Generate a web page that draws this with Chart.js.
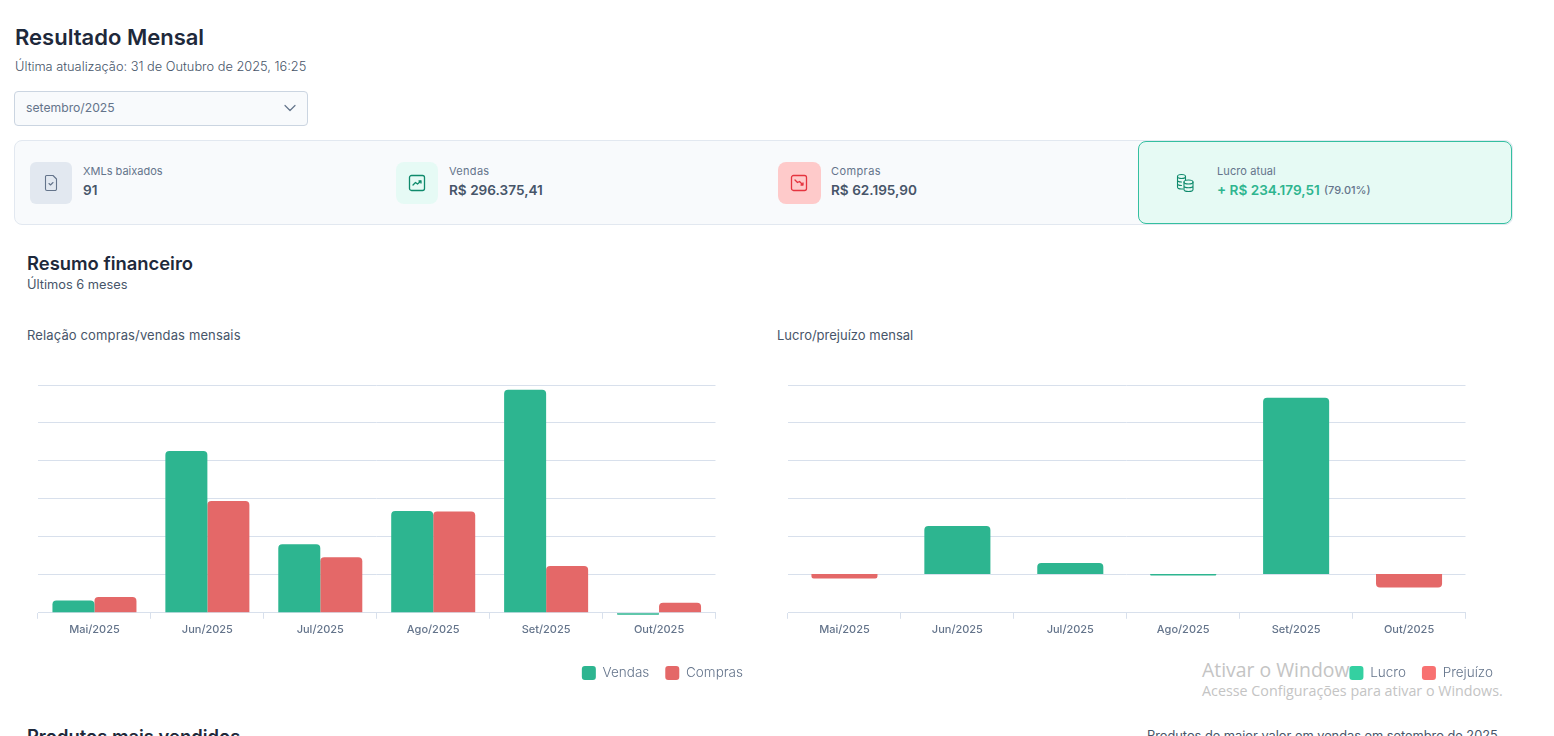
<!DOCTYPE html>
<html lang="pt-BR">
<head>
<meta charset="utf-8">
<title>Resultado Mensal</title>
<script src="https://cdn.jsdelivr.net/npm/chart.js@4"></script>
<style>
  html, body { margin: 0; height: 100%; overflow: hidden; background: #fff; }
  body { font-family: Inter, "Noto Sans", sans-serif; position: relative; width: 1554px; height: 736px; }
  .box, .t, canvas, svg.icon { position: absolute; }
  .t { white-space: nowrap; line-height: 1; }
  .title { color: #1e293b; font-weight: 600; }
  .label { font-size: 11px; color: #64748b; }
  .value { font-size: 13.6px; font-weight: 600; color: #475569; }
  .sub { font-size: 13px; color: #475569; }
  svg.icon { fill: none; stroke-linecap: round; stroke-linejoin: round; }
  .watermark { color: #c4c4c4; font-family: "Open Sans", sans-serif; }
</style>
</head>
<body>

<div class="t title" style="left:15px;top:26px;font-size:22px;">Resultado Mensal</div>
<div class="t" style="left:15px;top:61px;font-size:12.8px;font-weight:300;color:#475569;">Última atualização: 31 de Outubro de 2025, 16:25</div>

<div class="box" style="left:14px;top:91px;width:292px;height:33px;background:#f8fafc;border:1px solid #cbd5e1;border-radius:4px;"></div>
<div class="t" style="left:26px;top:102px;font-size:12.2px;color:#64748b;">setembro/2025</div>
<svg class="icon" style="left:283px;top:102px;" width="14" height="12" viewBox="0 0 14 12" stroke="#64748b" stroke-width="1.2"><path d="M2 3.500 7 8.500 12 3.500"/></svg>

<!-- faixa de resumo -->
<div class="box" style="left:14px;top:140px;width:1497px;height:83px;background:#f8fafc;border:1px solid #e2e8f0;border-radius:8px;"></div>
<div class="box" style="left:1138px;top:141px;width:372px;height:81px;background:#e6faf4;border:1px solid #34bfa0;border-radius:8px;"></div>

<div class="box" style="left:30px;top:162px;width:42px;height:42px;background:#e2e8f0;border-radius:6px;"></div>
<svg class="icon" style="left:44px;top:174px;" width="14" height="18" viewBox="0 0 14 18" stroke="#64748b" stroke-width="1.1"><path d="M2.500 1.500H9L12.500 5V15A1.500 1.500 0 0 1 11 16.500H3A1.500 1.500 0 0 1 1.500 15V2.500A1 1 0 0 1 2.500 1.500Z"/><path d="M5 9.500 6.500 11 9 8.500"/></svg>
<div class="t label" style="left:83px;top:166px;">XMLs baixados</div>
<div class="t value" style="left:83px;top:184px;">91</div>

<div class="box" style="left:396px;top:162px;width:42px;height:42px;background:#e6faf5;border-radius:8px;"></div>
<svg class="icon" style="left:408px;top:174px;" width="18" height="18" viewBox="0 0 18 18" stroke="#0f8a6c" stroke-width="1.300"><rect x="1.500" y="1.500" width="15" height="15" rx="2"/><path d="M5 11 7.500 8.500 9.500 10 13 7M11 7H13V9"/></svg>
<div class="t label" style="left:449px;top:166px;letter-spacing:.3px;">Vendas</div>
<div class="t value" style="left:449px;top:184px;">R$ 296.375,41</div>

<div class="box" style="left:778px;top:162px;width:43px;height:42px;background:#fecaca;border-radius:8px;"></div>
<svg class="icon" style="left:790px;top:174px;" width="18" height="18" viewBox="0 0 18 18" stroke="#e5343f" stroke-width="1.300"><rect x="1.500" y="1.500" width="15" height="15" rx="2"/><path d="M5 6 7.500 8.500 9.500 7.500 13 11M11 11H13V9"/></svg>
<div class="t label" style="left:831px;top:166px;letter-spacing:.4px;">Compras</div>
<div class="t value" style="left:831px;top:184px;">R$ 62.195,90</div>

<svg class="icon" style="left:1175px;top:173px;" width="21" height="20" viewBox="0 0 21 20" stroke="#0f8a6c" stroke-width="1.100"><ellipse cx="6.500" cy="3.500" rx="4" ry="2"/><path d="M2.500 3.500V14C2.500 15.100 4.300 16 6.500 16H8M2.500 7C2.500 8.100 4.300 9 6.500 9M2.500 10.500C2.500 11.600 4.300 12.500 6.500 12.500M10.500 3.500V7"/><ellipse cx="13.500" cy="9" rx="4.500" ry="2"/><path d="M9 9V16.500C9 17.600 11 18.500 13.500 18.500S18 17.600 18 16.500V9M9 12.700C9 13.800 11 14.700 13.500 14.700S18 13.800 18 12.700"/></svg>
<div class="t label" style="left:1217px;top:166px;letter-spacing:.1px;">Lucro atual</div>
<div class="t value" style="left:1217px;top:184px;color:#2eb58f;">+ R$ 234.179,51</div>
<div class="t" style="left:1324px;top:185px;font-size:11px;font-weight:500;color:#64748b;">(79.01%)</div>

<!-- cabeçalho dos gráficos -->
<div class="t title" style="left:27px;top:254px;font-size:18.400px;">Resumo financeiro</div>
<div class="t sub" style="left:27px;top:279px;font-size:12.800px;">Últimos 6 meses</div>
<div class="t sub" style="left:27px;top:329px;letter-spacing:.13px;">Relação compras/vendas mensais</div>
<div class="t sub" style="left:777px;top:329px;">Lucro/prejuízo mensal</div>

<div class="t watermark" style="left:1202px;top:660px;font-size:19.400px;">Ativar o Windows</div>
<div class="t watermark" style="left:1202px;top:684px;font-size:14.300px;">Acesse Configurações para ativar o Windows.</div>

<canvas id="comprasVendasChart" width="732" height="330" style="left:27px;top:360px;"></canvas>
<canvas id="lucroChart" width="732" height="330" style="left:777px;top:360px;"></canvas>

<div class="t title" style="left:27px;top:727px;font-size:18.400px;">Produtos mais vendidos</div>
<div class="t" style="left:1147px;top:730px;font-size:12.800px;color:#475569;">Produtos de maior valor em vendas em setembro de 2025</div>

<script>
// ======================
// DADOS
// ======================

const meses = ["Mai/2025", "Jun/2025", "Jul/2025", "Ago/2025", "Set/2025", "Out/2025"];

const vendas = [16500, 215100, 91000, 135400, 296375.41, -2600];
const compras = [21000, 148700, 73800, 134700, 62195.90, 13400];

const lucro = [null, 63700, 14700, -2200, 234179.51, null];
const prejuizo = [-5900, null, null, null, null, -17900];

const passoEixo = 50450;
const limitesCompras = [0, 302700];
const limitesLucro = [-51600, 251100];


// ======================
// CORES
// ======================

const verde = "#2db590";
const vermelho = "#e46868";
const verdeLegenda = "#34d0a1";
const vermelhoLegenda = "#f87171";
const corGrade = "#d8e0ec";
const corTexto = "#64748b";


// ======================
// OPCOES COMUNS
// ======================

function buildOptions(limites, legendColors) {

  return {
    responsive: false,
    animation: false,

    layout: {
      padding: { left: 11, top: 25 }
    },

    scales: {

      x: {
        stacked: legendColors !== null,
        grid: {
          color: corGrade,
          drawOnChartArea: false,
          tickLength: 6
        },
        border: { color: corGrade, width: 1 },
        ticks: {
          color: corTexto,
          padding: 4,
          maxRotation: 0,
          font: { family: "Inter", size: 11, weight: "500" }
        },
        afterFit: scale => { scale.height += 10; }
      },

      y: {
        stacked: legendColors !== null,
        min: limites[0],
        max: limites[1],
        grid: { color: corGrade, drawTicks: false },
        border: { display: false },
        ticks: { display: false, stepSize: passoEixo }
      },

      // reserva o espaco a direita da area de plotagem, a legenda passa dela
      margem: {
        position: "right",
        display: true,
        grid: { display: false },
        border: { display: false },
        ticks: { display: false },
        afterFit: scale => { scale.width = 43.500; }
      }

    },

    plugins: {
      tooltip: { enabled: false },
      legend: {
        position: "bottom",
        align: "end",
        labels: {
          boxWidth: 14,
          boxHeight: 14,
          useBorderRadius: true,
          borderRadius: 3,
          padding: 16,
          color: corTexto,
          font: { family: "Inter", size: 13.500, weight: "300" },
          generateLabels: chart => {
            const items = Chart.defaults.plugins.legend.labels.generateLabels(chart);
            if(legendColors) {
              items.forEach((item, i) => { item.fillStyle = legendColors[i]; });
            }
            items.forEach(item => { item.lineWidth = 0; });
            return items;
          }
        }
      }
    }
  };

}


// ======================
// COMPRAS X VENDAS
// ======================

new Chart(document.getElementById("comprasVendasChart"), {
  type: "bar",
  data: {
    labels: meses,
    datasets: [
      { label: "Vendas", data: vendas, backgroundColor: verde, borderRadius: 4, categoryPercentage: 0.744, barPercentage: 1, clip: false },
      { label: "Compras", data: compras, backgroundColor: vermelho, borderRadius: 4, categoryPercentage: 0.744, barPercentage: 1 }
    ]
  },
  options: buildOptions(limitesCompras, null)
});


// ======================
// LUCRO / PREJUIZO
// ======================

new Chart(document.getElementById("lucroChart"), {
  type: "bar",
  data: {
    labels: meses,
    datasets: [
      { label: "Lucro", data: lucro, backgroundColor: verde, borderRadius: 4, categoryPercentage: 0.585, barPercentage: 1 },
      { label: "Prejuízo", data: prejuizo, backgroundColor: vermelho, borderRadius: 4, categoryPercentage: 0.585, barPercentage: 1 }
    ]
  },
  options: buildOptions(limitesLucro, [verdeLegenda, vermelhoLegenda])
});
</script>
</body>
</html>
